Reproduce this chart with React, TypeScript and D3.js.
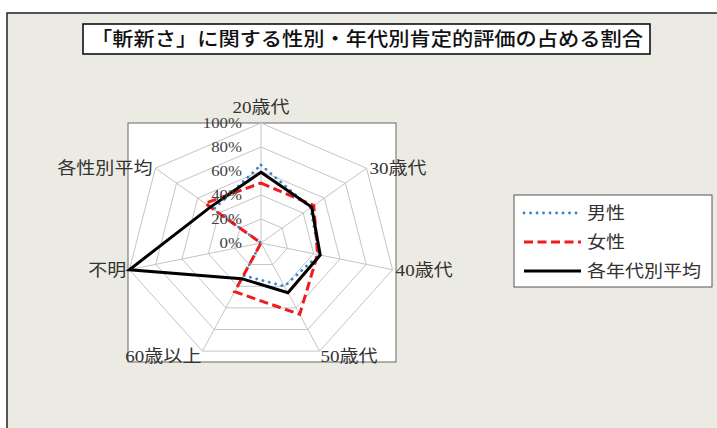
import React from "react";
import * as d3 from "d3";

const W = 717;
const H = 428;

const axes = ["20歳代", "30歳代", "40歳代", "50歳代", "60歳以上", "不明", "各性別平均"];
const ticks = [0, 20, 40, 60, 80, 100];
const male = [65, 47, 44, 40, 30, 0, 45];
const female = [50, 50, 43, 66, 45, 0, 53];
const average = [59, 48, 45, 46, 33, 100, 48];
const seriesNames = ["男性", "女性", "各年代別平均"];
const title = "「斬新さ」に関する性別・年代別肯定的評価の占める割合";

const cx = 261;
const cy = 243;
const rx = d3.scaleLinear().domain([0, 100]).range([0, 135]);
const ry = d3.scaleLinear().domain([0, 100]).range([0, 120]);
const angle = d3.scaleLinear().domain([0, axes.length]).range([0, 2 * Math.PI]);

const pt = (i: number, v: number): [number, number] => [
  cx + rx(v) * Math.sin(angle(i)),
  cy - ry(v) * Math.cos(angle(i)),
];

const line = d3.line().curve(d3.curveLinearClosed);
const font = "'Liberation Serif', 'Noto Sans CJK JP', serif";
const sx = 1.12;

const styles = [
  { stroke: "#3a86c8", width: 2.8, dash: "0.1,6.4", cap: "round" },
  { stroke: "#ee1c1c", width: 3, dash: "9,4.5", cap: "butt" },
  { stroke: "#000000", width: 3, dash: "none", cap: "butt" },
];
const data = [male, female, average];

function Txt({ x, y, anchor, size, children, fill = "#333" }: any) {
  return (
    <text
      transform={`translate(${x},${y}) scale(${sx},1)`}
      textAnchor={anchor}
      fontSize={size}
      fontFamily={font}
      fill={fill}
    >
      {children}
    </text>
  );
}

export default function App() {
  const labelPos = axes.map((a, i) => {
    const [x, y] = pt(i, 100);
    const s = Math.sin(angle(i));
    if (i === 0) return { x, y: y - 10, anchor: "middle" };
    if (i === 3) return { x: x + 1, y: y + 11, anchor: "start" };
    if (i === 4) return { x: x - 1, y: y + 11, anchor: "end" };
    return { x: s > 0 ? x + 3 : x - 3, y: y + 6, anchor: s > 0 ? "start" : "end" };
  });

  return (
    <svg width={W} height={H} style={{ position: "absolute", left: 0, top: 0 }}>
      <rect x={0} y={0} width={W} height={H} fill="#ffffff" />
      <rect x={7} y={13} width={W} height={H} fill="#ecebe3" stroke="#222" strokeWidth={1.5} />

      {/* title */}
      <rect x={83} y={24} width={567} height={30} fill="#fff" stroke="#111" strokeWidth={1.6} />
      <text
        x={91}
        y={46}
        fontSize={19}
        fontFamily={font}
        fill="#111"
        fontWeight={500}
        textLength={552}
        lengthAdjust="spacingAndGlyphs"
      >
        {title}
      </text>

      {/* plot area */}
      <rect x={128} y={123} width={268} height={239} fill="#fff" stroke="#666" strokeWidth={1} />

      {/* grid */}
      {ticks.slice(1).map((t) => (
        <path
          key={t}
          d={line(axes.map((_, i) => pt(i, t))) as string}
          fill="none"
          stroke="#c4c4c4"
          strokeWidth={1}
        />
      ))}
      {axes.map((a, i) => {
        const [x, y] = pt(i, 100);
        return <line key={a} x1={cx} y1={cy} x2={x} y2={y} stroke="#c4c4c4" strokeWidth={1} />;
      })}

      {/* series */}
      {data.map((d, k) => (
        <path
          key={k}
          d={line(d.map((v, i) => pt(i, v))) as string}
          fill="none"
          stroke={styles[k].stroke}
          strokeWidth={styles[k].width}
          strokeDasharray={styles[k].dash}
          strokeLinecap={styles[k].cap as any}
          strokeLinejoin="miter"
        />
      ))}

      {/* tick labels */}
      {ticks.map((t) => (
        <Txt key={t} x={242} y={cy - ry(t) + 5} anchor="end" size={15} fill="#404040">
          {t}%
        </Txt>
      ))}

      {/* axis labels */}
      {axes.map((a, i) => (
        <Txt key={a} x={labelPos[i].x} y={labelPos[i].y} anchor={labelPos[i].anchor} size={17}>
          {a}
        </Txt>
      ))}

      {/* legend */}
      <rect x={514} y={195} width={198} height={92} fill="#fff" stroke="#555" strokeWidth={1} />
      {seriesNames.map((n, k) => {
        const y = 213 + k * 29;
        return (
          <g key={n}>
            <line
              x1={524}
              x2={581}
              y1={y}
              y2={y}
              stroke={styles[k].stroke}
              strokeWidth={styles[k].width}
              strokeDasharray={styles[k].dash}
              strokeLinecap={styles[k].cap as any}
            />
            <Txt x={587} y={y + 6} anchor="start" size={17}>
              {n}
            </Txt>
          </g>
        );
      })}
    </svg>
  );
}
